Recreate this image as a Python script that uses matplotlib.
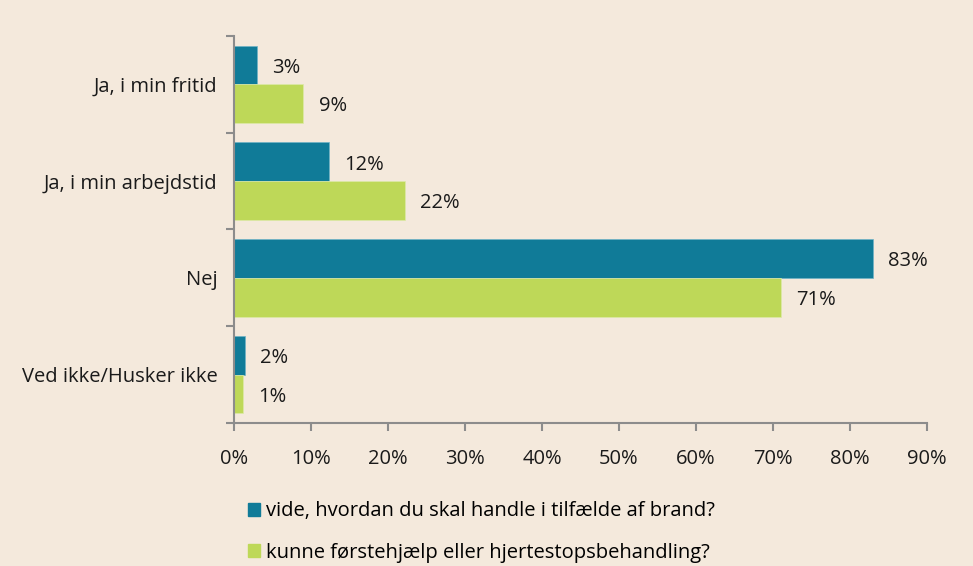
import numpy as np
import matplotlib.pyplot as plt
import matplotlib.patches as mpatches

plt.rcParams['font.family'] = ['Open Sans', 'DejaVu Sans']

categories = ["Ja, i min fritid", "Ja, i min arbejdstid", "Nej", "Ved ikke/Husker ikke"]
brand = [3.0, 12.3, 83.0, 1.4]
brand_lbl = ["3%", "12%", "83%", "2%"]
hjerte = [9.0, 22.2, 71.0, 1.2]
hjerte_lbl = ["9%", "22%", "71%", "1%"]
series = ["vide, hvordan du skal handle i tilfælde af brand?",
          "kunne førstehjælp eller hjertestopsbehandling?"]

bg = "#F4E9DC"
blue = "#107B98"
green = "#BED858"
grey = "#8C8C8C"
fs = 14.5

fig = plt.figure(figsize=(9.73, 5.66), dpi=100, facecolor=bg)
ax = fig.add_axes([0.2405, 0.2527, 0.7122, 0.684], facecolor=bg)

y = np.arange(len(categories))
h = 0.4
ax.barh(y - h/2, brand, height=h, color=blue, edgecolor="#6FB3C6", linewidth=0.5)
ax.barh(y + h/2, hjerte, height=h, color=green, edgecolor="#DDEAA8", linewidth=0.5)

for i in range(len(categories)):
    ax.text(brand[i] + 2.0, y[i] - h/2 + 0.03, brand_lbl[i], va="center", ha="left", fontsize=fs, color="#1a1a1a")
    ax.text(hjerte[i] + 2.0, y[i] + h/2 + 0.03, hjerte_lbl[i], va="center", ha="left", fontsize=fs, color="#1a1a1a")

ax.set_xlim(0, 90)
ax.set_ylim(len(categories) - 0.5, -0.5)
ax.set_xticks(np.arange(0, 91, 10))
ax.set_xticklabels([f"{v}%" for v in range(0, 91, 10)], fontsize=fs, color="#1a1a1a")
ax.set_yticks(y)
ax.set_yticklabels(categories, fontsize=fs, color="#1a1a1a")
ax.set_yticks(np.arange(-0.5, len(categories), 1), minor=True)
ax.tick_params(axis="y", which="major", length=0, pad=12)
ax.tick_params(axis="y", which="minor", length=6, width=1.5, color=grey, direction="out")
ax.tick_params(axis="x", length=6, width=1.5, color=grey, pad=13)

for s in ["top", "right"]:
    ax.spines[s].set_visible(False)
for s in ["left", "bottom"]:
    ax.spines[s].set_color(grey)
    ax.spines[s].set_linewidth(1.5)

handles = [mpatches.Patch(color=blue), mpatches.Patch(color=green)]
fig.legend(handles, series, loc="upper left", bbox_to_anchor=(0.255, 0.114),
           frameon=False, fontsize=fs, handlelength=0.6, handleheight=0.6,
           handletextpad=0.3, labelspacing=1.05, borderaxespad=0, borderpad=0)

fig.savefig("out.png", dpi=100, facecolor=bg)
